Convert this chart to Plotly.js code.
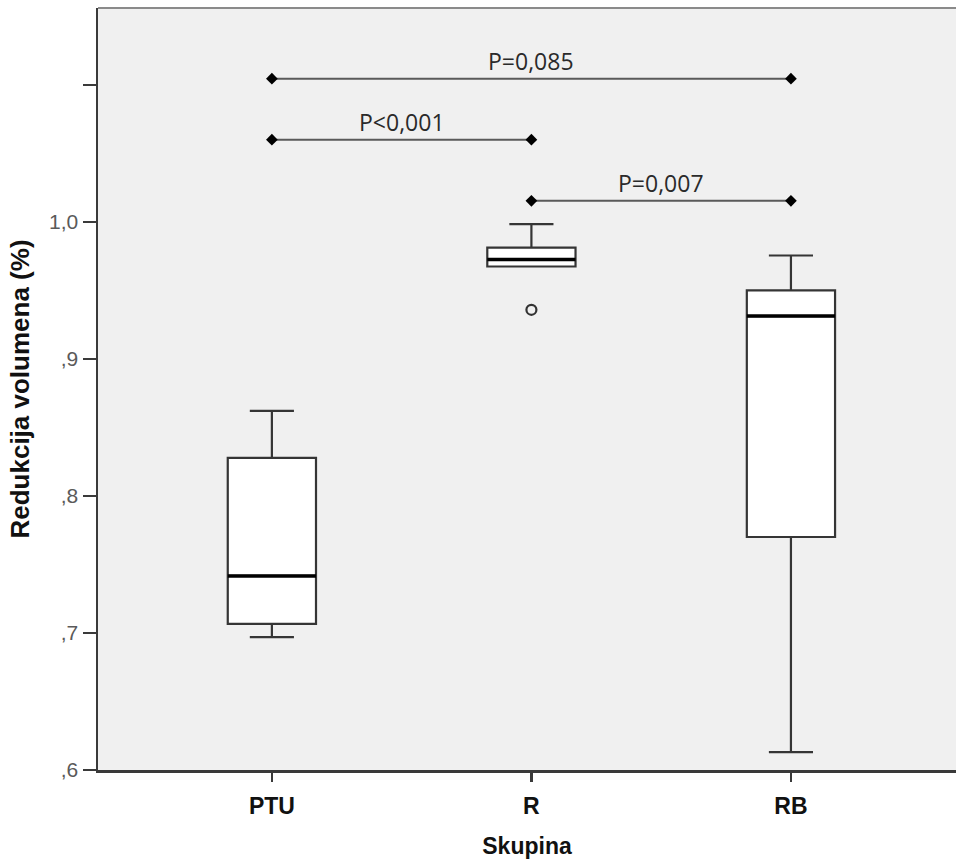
<!DOCTYPE html>
<html>
<head>
<meta charset="utf-8">
<script src="https://cdn.plot.ly/plotly-3.0.1.min.js"></script>
<style>html,body{margin:0;padding:0;background:#fff;}</style>
</head>
<body>
<div id="chart" style="width:956px;height:868px;"></div>
<script>
// Data
const groups = ["PTU", "R", "RB"];
const lowerWhisker = [0.697, 0.9674, 0.613];
const q1Values = [0.7066, 0.9674, 0.770];
const medianValues = [0.7416, 0.9725, 0.9312];
const q3Values = [0.8277, 0.9812, 0.9499];
const upperWhisker = [0.862, 0.9983, 0.9754];
const outlierGroup = ["R"];
const outlierValue = [0.9358];

const bracketFrom = ["PTU", "PTU", "R"];
const bracketTo = ["RB", "R", "RB"];
const bracketY = [1.1044, 1.0599, 1.0153];
const bracketLabel = ["P=0,085", "P<0,001", "P=0,007"];

const yTickVals = [0.6, 0.7, 0.8, 0.9, 1.0, 1.1];
const yTickText = [",6", ",7", ",8", ",9", "1,0", ""];

const traces = [];
traces.push({
  type: "box",
  x: groups,
  q1: q1Values,
  median: medianValues,
  q3: q3Values,
  lowerfence: lowerWhisker,
  upperfence: upperWhisker,
  width: 0.34,
  whiskerwidth: 0.5,
  fillcolor: "#ffffff",
  line: {color: "#353535", width: 2.2},
  boxpoints: false,
  hoverinfo: "skip",
  showlegend: false
});
// thick median lines
traces.push({
  type: "box",
  x: groups,
  q1: medianValues,
  median: medianValues,
  q3: medianValues,
  lowerfence: medianValues,
  upperfence: medianValues,
  width: 0.34,
  whiskerwidth: 0,
  fillcolor: "rgba(0,0,0,0)",
  line: {color: "#000000", width: 3.5},
  boxpoints: false,
  hoverinfo: "skip",
  showlegend: false
});
traces.push({
  type: "scatter",
  mode: "markers",
  x: outlierGroup,
  y: outlierValue,
  marker: {symbol: "circle-open", size: 10, color: "#333", line: {width: 2.2, color: "#333"}},
  hoverinfo: "skip",
  showlegend: false
});

const annotations = [];
for (let i = 0; i < bracketY.length; i++) {
  traces.push({
    type: "scatter",
    mode: "lines+markers",
    x: [bracketFrom[i], bracketTo[i]],
    y: [bracketY[i], bracketY[i]],
    line: {color: "#5a5a5a", width: 2},
    marker: {symbol: "diamond", size: 9, color: "#000"},
    hoverinfo: "skip",
    showlegend: false
  });
  const mid = (groups.indexOf(bracketFrom[i]) + groups.indexOf(bracketTo[i])) / 2;
  annotations.push({
    x: mid, y: bracketY[i], xref: "x", yref: "y",
    text: bracketLabel[i], showarrow: false,
    yanchor: "bottom", yshift: 0,
    font: {family: "Open Sans, Noto Sans, sans-serif", size: 23, color: "#2a2a2a"}
  });
}

const layout = {
  width: 956, height: 868,
  margin: {l: 98, r: 0, t: 8, b: 98},
  paper_bgcolor: "#ffffff",
  plot_bgcolor: "#f0f0f0",
  showlegend: false,
  xaxis: {
    type: "category",
    range: [-0.67, 2.636],
    showline: true, linecolor: "#3a3a3a", linewidth: 2.5,
    ticks: "outside", ticklen: 9, tickwidth: 2.5, tickcolor: "#3a3a3a",
    ticklabelstandoff: 5,
    tickfont: {family: "Liberation Sans, Arial, sans-serif", size: 23, color: "#111", weight: "bold"},
    showgrid: false, zeroline: false,
    title: {text: "<b>Skupina</b>", standoff: 20,
      font: {family: "Liberation Sans, Arial, sans-serif", size: 23, color: "#111"}}
  },
  yaxis: {
    range: [0.6, 1.156],
    tickvals: yTickVals, ticktext: yTickText,
    showline: true, linecolor: "#3a3a3a", linewidth: 2.5,
    ticks: "outside", ticklen: 13, tickwidth: 2.5, tickcolor: "#3a3a3a",
    tickfont: {family: "Liberation Sans, Arial, sans-serif", size: 21, color: "#5a5a5a"},
    showgrid: false, zeroline: false,
    title: {text: "<b>Redukcija volumena (%)</b>", standoff: 12,
      font: {family: "Liberation Sans, Arial, sans-serif", size: 26, color: "#111"}}
  },
  shapes: [{
    type: "line", xref: "paper", yref: "paper", x0: 0, x1: 1, y0: 1, y1: 1,
    line: {color: "#8a8a8a", width: 2}
  }],
  annotations: annotations
};

Plotly.newPlot("chart", traces, layout, {displayModeBar: false, staticPlot: true});
</script>
</body>
</html>
